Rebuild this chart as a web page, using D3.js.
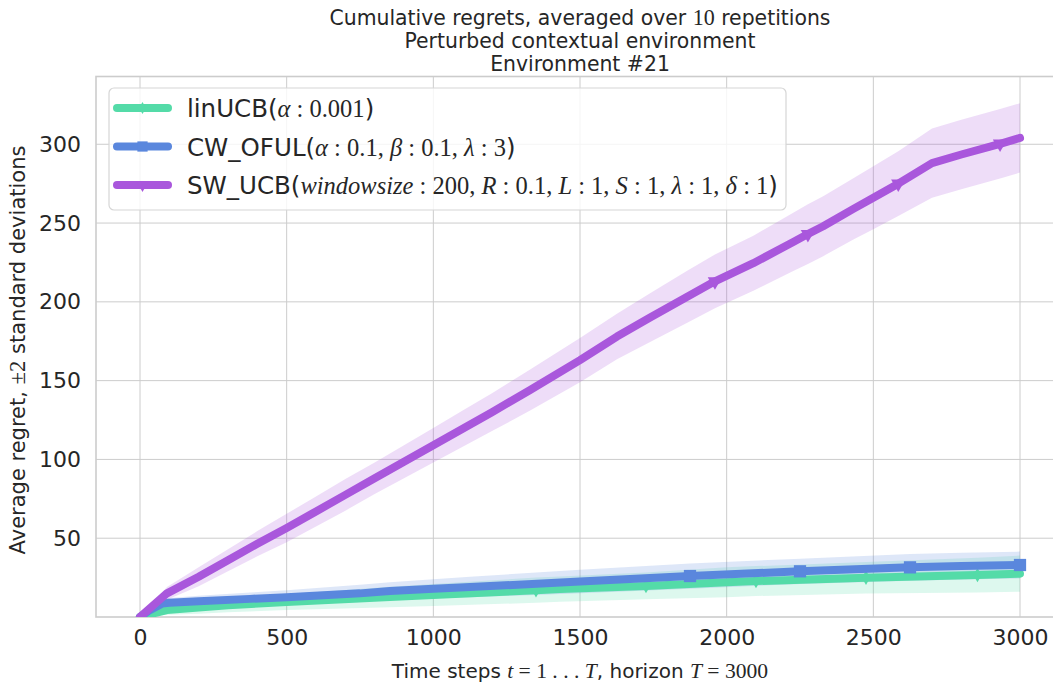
<!DOCTYPE html>
<html>
<head>
<meta charset="utf-8">
<script src="https://cdn.jsdelivr.net/npm/d3@7"></script>
<style>
  body { margin: 0; background: #ffffff; }
  svg { display: block; }
</style>
</head>
<body>
<svg id="chart" width="1053" height="684"></svg>
<script>
// ---- Data: average cumulative regret per algorithm, with ±2 std half-widths ----
const linucbT    = [0, 40, 92, 200, 300, 500, 852, 1000, 1350, 1432, 1725, 2000, 2100, 2475, 2855, 3000];
const linucbY    = [0, 2, 4.4, 6, 7.5, 9.5, 12.7, 14, 17, 17.7, 19.7, 22, 22.8, 24.9, 26.6, 27.5];
const linucbBand = [0, 1.5, 3, 4, 4.5, 5, 6.5, 7, 8, 8, 8.5, 9.5, 9.5, 10, 11, 11.5];
const linucbMarks = [1350, 1725, 2100, 2475, 2855];

const cwofulT    = [0, 30, 75, 100, 200, 375, 500, 750, 852, 1000, 1125, 1500, 1875, 2250, 2625, 2800, 3000];
const cwofulY    = [0, 4, 8.5, 9, 10, 11.5, 12.5, 15, 16.5, 18, 19, 22.5, 26, 29, 31.5, 32.3, 33];
const cwofulBand = [0, 2, 3, 3, 3.5, 4, 4.5, 5.5, 5.5, 6, 6.5, 7.5, 8, 8, 8.5, 8.5, 8.5];
const cwofulMarks = [1875, 2250, 2625, 3000];

const swucbT    = [0, 92, 200, 300, 400, 500, 600, 700, 800, 900, 1000, 1100, 1200, 1330, 1500, 1626, 1739, 1864, 1960, 2091, 2227, 2277, 2329, 2432, 2500, 2585, 2700, 2800, 2932, 3000];
const swucbY    = [0, 15, 25.5, 36, 46.5, 56.5, 67, 77.5, 88, 98.5, 109, 119.5, 130, 144, 163, 178, 190, 203, 213, 224.5, 238, 243, 248, 259, 266, 275, 288, 293.5, 300.3, 304];
const swucbBand = [0, 4, 6, 7, 8, 9, 9.5, 10, 10, 10.5, 11, 11.5, 12, 13, 14, 14.5, 15.5, 16.5, 17, 17.5, 18.5, 19, 19, 19.5, 20, 20.5, 22, 22, 22, 22];
const swucbMarks = [1960, 2277, 2585, 2932];

const xTicks = [0, 500, 1000, 1500, 2000, 2500, 3000];
const yTicks = [50, 100, 150, 200, 250, 300];

const seriesNames = ["linUCB", "CW_OFUL", "SW_UCB"];
const seriesColors = ["#54dba8", "#5a87dd", "#a957dc"];

// ---- Layout ----
const svg = d3.select("#chart");
const plot = { left: 96, top: 76.5, right: 1064, bottom: 617 };
const x = d3.scaleLinear().domain([-150, 3150]).range([plot.left, plot.right]);
const y = d3.scaleLinear().domain([0, 343]).range([plot.bottom, plot.top]);

const SANS = "DejaVu Sans";
const SERIF = "Liberation Serif";
const ink = "#262626";
const gridColor = "#cccccc";

// Renders a label built from plain runs and math runs (letters italic, digits upright)
function richText(sel, parts, size, mathScale) {
  parts.forEach(([txt, kind]) => {
    if (kind === "r") {
      sel.append("tspan").attr("font-family", SANS).attr("font-size", size).text(txt);
    } else {
      const chunks = txt.match(/[A-Za-zα-ω]+|[^A-Za-zα-ω]+/g) || [];
      chunks.forEach(c => {
        const isLetter = /[A-Za-zα-ω]/.test(c);
        sel.append("tspan")
          .attr("font-family", SERIF)
          .attr("font-style", isLetter ? "italic" : "normal")
          .attr("font-size", size * mathScale)
          .text(c);
      });
    }
  });
  return sel;
}

// ---- Clip to axes ----
svg.append("defs").append("clipPath").attr("id", "plotclip")
  .append("rect").attr("x", plot.left).attr("y", plot.top)
  .attr("width", plot.right - plot.left).attr("height", plot.bottom - plot.top);

// ---- Grid ----
const grid = svg.append("g");
grid.selectAll("line.vx").data(xTicks).join("line")
  .attr("x1", d => x(d)).attr("x2", d => x(d))
  .attr("y1", plot.top).attr("y2", plot.bottom)
  .attr("stroke", gridColor).attr("stroke-width", 1);
grid.selectAll("line.hy").data(yTicks).join("line")
  .attr("y1", d => y(d)).attr("y2", d => y(d))
  .attr("x1", plot.left).attr("x2", plot.right)
  .attr("stroke", gridColor).attr("stroke-width", 1);

// ---- Frame ----
svg.append("rect")
  .attr("x", plot.left).attr("y", plot.top)
  .attr("width", plot.right - plot.left).attr("height", plot.bottom - plot.top)
  .attr("fill", "none").attr("stroke", gridColor).attr("stroke-width", 1.6);

// ---- Tick labels via d3 axes ----
const xAxis = svg.append("g").attr("transform", `translate(0,${plot.bottom})`)
  .call(d3.axisBottom(x).tickValues(xTicks).tickSize(0).tickPadding(12).tickFormat(d3.format("d")));
xAxis.select(".domain").remove();
xAxis.selectAll("text").attr("font-family", SANS).attr("font-size", 22).attr("fill", ink).attr("dy", "0.71em");

const yAxis = svg.append("g").attr("transform", `translate(${plot.left},0)`)
  .call(d3.axisLeft(y).tickValues(yTicks).tickSize(0).tickPadding(15).tickFormat(d3.format("d")));
yAxis.select(".domain").remove();
yAxis.selectAll("text").attr("font-family", SANS).attr("font-size", 22).attr("fill", ink);

// ---- Series ----
const series = [
  { t: linucbT, v: linucbY, b: linucbBand, marks: linucbMarks, sym: d3.symbolDiamond, symSize: 60, rot: 0 },
  { t: cwofulT, v: cwofulY, b: cwofulBand, marks: cwofulMarks, sym: d3.symbolSquare, symSize: 150, rot: 0 },
  { t: swucbT, v: swucbY, b: swucbBand, marks: swucbMarks, sym: d3.symbolTriangle, symSize: 90, rot: 180 }
].map((s, i) => ({
  ...s, color: seriesColors[i], name: seriesNames[i],
  pts: s.t.map((t, j) => ({ t, v: s.v[j], lo: s.v[j] - s.b[j], hi: s.v[j] + s.b[j] }))
}));

const layer = svg.append("g").attr("clip-path", "url(#plotclip)");

const area = d3.area().x(d => x(d.t)).y0(d => y(d.lo)).y1(d => y(d.hi));
const line = d3.line().x(d => x(d.t)).y(d => y(d.v));

series.forEach(s => {
  layer.append("path").attr("d", area(s.pts))
    .attr("fill", s.color).attr("fill-opacity", 0.2).attr("stroke", "none");
});
series.forEach(s => {
  layer.append("path").attr("d", line(s.pts))
    .attr("fill", "none").attr("stroke", s.color).attr("stroke-width", 8)
    .attr("stroke-linejoin", "round").attr("stroke-linecap", "round");
  layer.selectAll(null).data(s.pts.filter(p => s.marks.includes(p.t))).join("path")
    .attr("d", d3.symbol().type(s.sym).size(s.symSize))
    .attr("transform", d => `translate(${x(d.t)},${y(d.v)}) rotate(${s.rot})`)
    .attr("fill", s.color);
});

// ---- Legend ----
const legend = svg.append("g");
legend.append("rect")
  .attr("x", 109).attr("y", 88).attr("width", 677).attr("height", 122)
  .attr("rx", 5).attr("fill", "#ffffff").attr("fill-opacity", 0.8)
  .attr("stroke", "#d6d6d6").attr("stroke-width", 1.2);

const legendLabels = [
  [["linUCB(", "r"], ["α : 0.001", "m"], [")", "r"]],
  [["CW_OFUL(", "r"], ["α : 0.1, β : 0.1, λ : 3", "m"], [")", "r"]],
  [["SW_UCB(", "r"], ["windowsize : 200, R : 0.1, L : 1, S : 1, λ : 1, δ : 1", "m"], [")", "r"]]
];
const rowY = [108, 146.5, 185];
series.forEach((s, i) => {
  const g = legend.append("g").attr("transform", `translate(0,${rowY[i]})`);
  g.append("line").attr("x1", 117).attr("x2", 168).attr("y1", 0).attr("y2", 0)
    .attr("stroke", s.color).attr("stroke-width", 8).attr("stroke-linecap", "round");
  g.append("path").attr("d", d3.symbol().type(s.sym).size(s.symSize * 0.7))
    .attr("transform", `translate(142.5,0) rotate(${s.rot})`).attr("fill", s.color);
  richText(g.append("text").attr("x", 187).attr("y", 9).attr("fill", ink), legendLabels[i], 24.5, 1.0);
});

// ---- Titles and axis labels ----
const titleLines = [
  [["Cumulative regrets, averaged over ", "r"], ["10", "m"], [" repetitions", "r"]],
  [["Perturbed contextual environment", "r"]],
  [["Environment #21", "r"]]
];
titleLines.forEach((parts, i) => {
  richText(svg.append("text").attr("x", 580).attr("y", 25 + 23 * i)
    .attr("text-anchor", "middle").attr("fill", ink), parts, 20.4, 1.08);
});

richText(svg.append("text").attr("x", 580).attr("y", 678)
  .attr("text-anchor", "middle").attr("fill", ink),
  [["Time steps ", "r"], ["t = 1 . . . T", "m"], [", horizon ", "r"], ["T = 3000", "m"]], 20, 1.08);

richText(svg.append("text").attr("transform", "translate(25,350) rotate(-90)")
  .attr("text-anchor", "middle").attr("fill", ink),
  [["Average regret, ", "r"], ["±2", "m"], [" standard deviations", "r"]], 21, 1.08);
</script>
</body>
</html>
